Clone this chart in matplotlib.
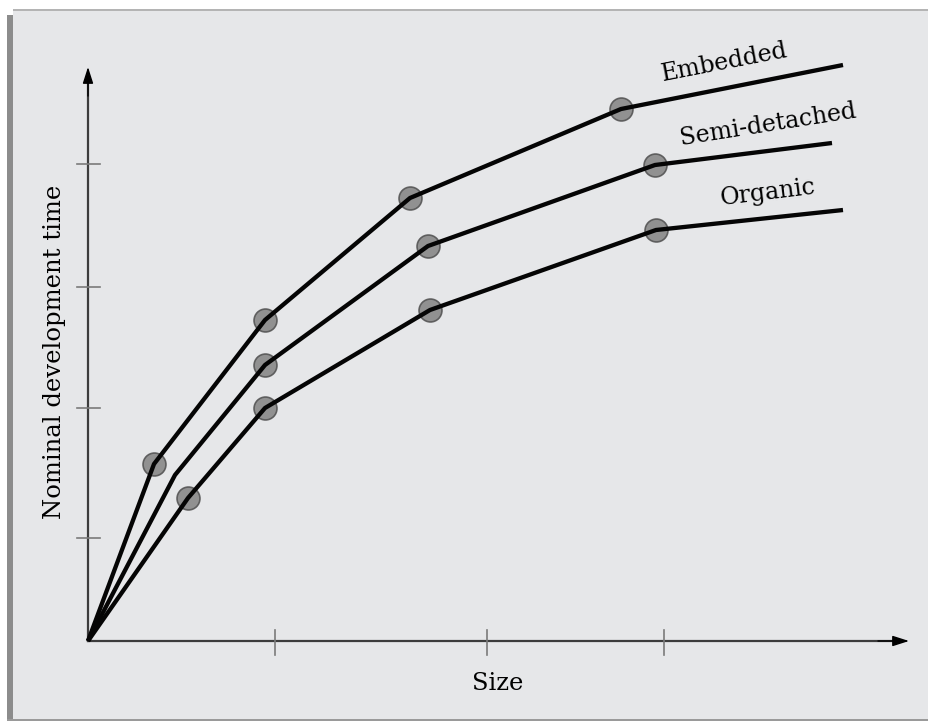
import numpy as np
import matplotlib
matplotlib.use('Agg')
import matplotlib.pyplot as plt
from matplotlib.patches import Rectangle

# size / time in arbitrary units (origin of the sketch = 0, 0)
EMB_X = [0.0, 0.66, 1.77, 3.22, 5.33, 7.55]
EMB_Y = [0.0, 1.77, 3.21, 4.43, 5.32, 5.76]
SEMI_X = [0.0, 0.87, 1.77, 3.40, 5.67, 7.44]
SEMI_Y = [0.0, 1.66, 2.76, 3.95, 4.76, 4.98]
ORG_X = [0.0, 1.00, 1.77, 3.42, 5.68, 7.55]
ORG_Y = [0.0, 1.43, 2.33, 3.31, 4.11, 4.31]
# which points carry a dot
EMB_DOTS = [1, 2, 3, 4]
SEMI_DOTS = [2, 3, 4]
ORG_DOTS = [1, 2, 3, 4]

XTICKS = [1.87, 3.99, 5.76]
YTICKS = [1.03, 2.33, 3.54, 4.77]

W, H = 929, 723
fig = plt.figure(figsize=(W / 100, H / 100), dpi=100, facecolor='white')

# background panel (figure pixel coords)
def px(x, y, w, h):
    return (x / W, 1 - (y + h) / H, w / W, h / H)

for (x, y, w, h), c in [((13, 10, 916, 710), '#e6e7e9'),
                        ((7, 15, 6, 705), '#8c8c8c'),
                        ((13, 9, 916, 2), '#b4b4b4'),
                        ((7, 719, 922, 2), '#9a9a9a')]:
    l, b, ww, hh = px(x, y, w, h)
    fig.patches.append(Rectangle((l, b), ww, hh, transform=fig.transFigure,
                                 facecolor=c, edgecolor='none', zorder=-5))

x0, y0 = 88, 641
ax = fig.add_axes([x0 / W, 1 - y0 / H, (912 - x0) / W, (y0 - 60) / H])
ax.set_zorder(5)
ax.patch.set_alpha(0)
ax.set_xlim(0, 8.24)
ax.set_ylim(0, 5.81)
for s in ax.spines.values():
    s.set_visible(False)
ax.set_xticks([])
ax.set_yticks([])

# axis lines, then black arrow heads on top
axc = '#3c3c3c'
ax.plot([0, 8.05], [0, 0], color=axc, lw=1.6, clip_on=False)
ax.plot([0, 0], [0, 5.6], color=axc, lw=1.6, clip_on=False)
ax.annotate('', xy=(8.21, 0), xytext=(7.9, 0), annotation_clip=False,
            arrowprops=dict(arrowstyle='-|>,head_length=1.0,head_width=0.32',
                            color='black', lw=1.0, shrinkA=0, shrinkB=0))
ax.annotate('', xy=(0, 5.74), xytext=(0, 5.45), annotation_clip=False,
            arrowprops=dict(arrowstyle='-|>,head_length=1.0,head_width=0.32',
                            color='black', lw=1.0, shrinkA=0, shrinkB=0))
for xt in XTICKS:
    ax.plot([xt, xt], [-0.14, 0.11], color='#7a7a7a', lw=1.2, clip_on=False)
for yt in YTICKS:
    ax.plot([-0.11, 0.12], [yt, yt], color='#7a7a7a', lw=1.2, clip_on=False)

for xs, ys, dots in [(EMB_X, EMB_Y, EMB_DOTS), (SEMI_X, SEMI_Y, SEMI_DOTS),
                     (ORG_X, ORG_Y, ORG_DOTS)]:
    ax.plot(xs, ys, color='#050505', lw=3.1, solid_capstyle='butt',
            solid_joinstyle='round', zorder=3, clip_on=False)
    ax.plot([xs[i] for i in dots], [ys[i] for i in dots], 'o', ms=16.5,
            mfc='#888888', mec='#555555', mew=1.2, alpha=0.9, zorder=2,
            clip_on=False)

font = dict(family='DejaVu Serif', color='black')
ax.text(6.36, 5.79, 'Embedded', fontsize=17, rotation=11, ha='center', va='center', **font)
ax.text(6.80, 5.16, 'Semi-detached', fontsize=17, rotation=9, ha='center', va='center', **font)
ax.text(6.80, 4.48, 'Organic', fontsize=17, rotation=7, ha='center', va='center', **font)

fig.text(498 / W, 1 - 683 / H, 'Size', fontsize=17.5, ha='center', va='center', **font)
fig.text(55 / W, 1 - 352 / H, 'Nominal development time', fontsize=17.5, rotation=90,
         ha='center', va='center', **font)

fig.savefig('out.png', dpi=100, facecolor='white')
